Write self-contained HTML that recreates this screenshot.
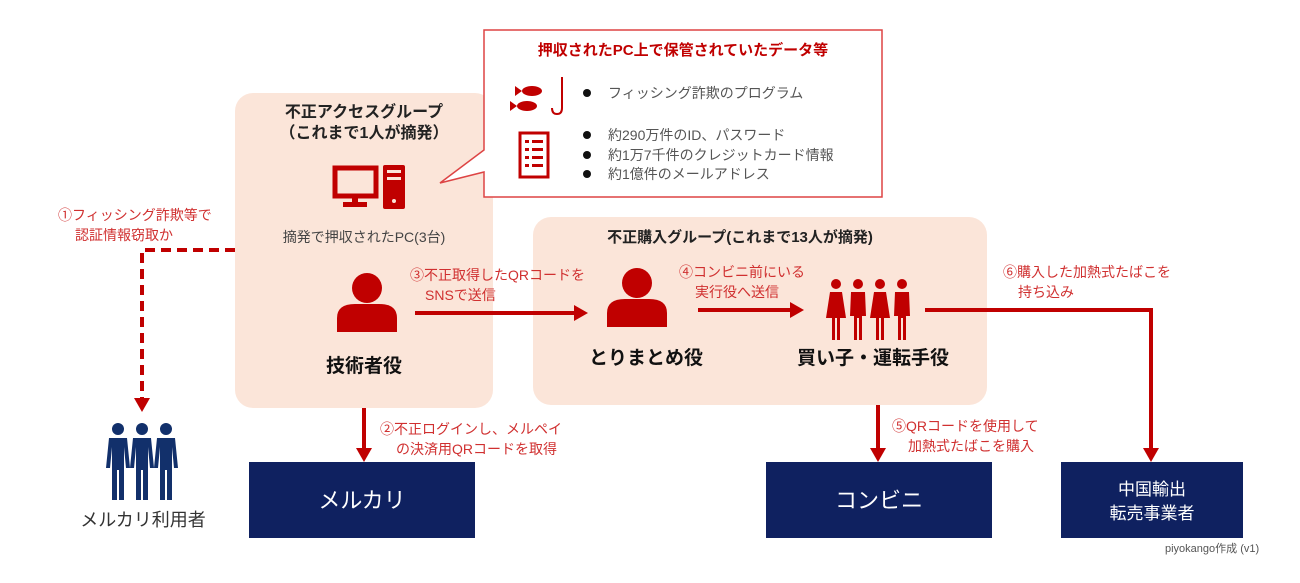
<!DOCTYPE html>
<html><head><meta charset="utf-8"><style>
html,body{margin:0;padding:0;background:#fff;}
svg{display:block;}
text{font-family:"Liberation Sans","Noto Sans CJK JP",sans-serif;}
</style></head><body>
<svg width="1300" height="583" viewBox="0 0 1300 583" xmlns="http://www.w3.org/2000/svg">
<defs>
<marker id="ar" markerWidth="10" markerHeight="10" refX="8" refY="5" orient="auto" markerUnits="userSpaceOnUse"><path d="M0,0 L10,5 L0,10 Z" fill="#c00000"/></marker>
<marker id="arb" markerWidth="16" markerHeight="16" refX="14" refY="8" orient="auto" markerUnits="userSpaceOnUse"><path d="M0,0 L16,8 L0,16 Z" fill="#c00000"/></marker>
<g id="person"><circle cx="0" cy="-22" r="15" fill="#c00000"/><path d="M-30,22 L-30,8 Q-30,-6 -12,-6 L12,-6 Q30,-6 30,8 L30,22 Z" fill="#c00000"/></g>
<g id="man"><circle cx="0" cy="-30" r="7" fill="C"/></g>
</defs>
<!-- boxes -->
<rect x="235" y="93" width="258" height="315" rx="18" fill="#fbe5d9"/>
<rect x="533" y="217" width="454" height="188" rx="18" fill="#fbe5d9"/>
<!-- callout -->
<path d="M484,30 L882,30 L882,197 L484,197 L484,172 L440,183 L484,150 Z" fill="#fff" stroke="#d44" stroke-width="1.5"/>
<text x="683" y="55" text-anchor="middle" font-size="15" font-weight="bold" fill="#c00000">押収されたPC上で保管されていたデータ等</text>
<g font-size="14" fill="#555">
<circle cx="587" cy="93" r="4" fill="#111"/><text x="608" y="98">フィッシング詐欺のプログラム</text>
<circle cx="587" cy="135" r="4" fill="#111"/><text x="608" y="140">約290万件のID、パスワード</text>
<circle cx="587" cy="155" r="4" fill="#111"/><text x="608" y="160">約1万7千件のクレジットカード情報</text>
<circle cx="587" cy="174" r="4" fill="#111"/><text x="608" y="179">約1億件のメールアドレス</text>
</g>
<!-- fish icon -->
<g fill="#c00000"><ellipse cx="532" cy="91" rx="10" ry="5"/><path d="M522,91 L515,86 L515,96Z"/><ellipse cx="527" cy="106" rx="10" ry="5"/><path d="M517,106 L510,101 L510,111Z"/></g>
<path d="M562,77 L562,108 Q562,114 557,114 Q552,114 552,108" fill="none" stroke="#c00000" stroke-width="2"/>
<!-- list icon -->
<rect x="520" y="133" width="28" height="44" fill="none" stroke="#c00000" stroke-width="3"/>
<g fill="#c00000"><rect x="525" y="140" width="4" height="3"/><rect x="532" y="140" width="11" height="3"/><rect x="525" y="148" width="4" height="3"/><rect x="532" y="148" width="11" height="3"/><rect x="525" y="156" width="4" height="3"/><rect x="532" y="156" width="11" height="3"/><rect x="525" y="164" width="4" height="3"/><rect x="532" y="164" width="11" height="3"/></g>
<!-- left group -->
<text x="364" y="117" text-anchor="middle" font-size="16" font-weight="bold" fill="#222">不正アクセスグループ</text>
<text x="364" y="138" text-anchor="middle" font-size="16" font-weight="bold" fill="#222">（これまで1人が摘発）</text>
<rect x="335" y="168" width="41" height="28" fill="none" stroke="#c00000" stroke-width="5"/>
<rect x="352" y="196" width="6" height="6" fill="#c00000"/><rect x="343" y="202" width="24" height="5" fill="#c00000"/>
<rect x="383" y="165" width="22" height="44" rx="2" fill="#c00000"/>
<rect x="387" y="170" width="14" height="3" fill="#fbe5d9"/><rect x="387" y="177" width="14" height="3" fill="#fbe5d9"/><circle cx="394" cy="201" r="2" fill="#fbe5d9"/>
<text x="364" y="242" text-anchor="middle" font-size="14" fill="#444">摘発で押収されたPC(3台)</text>
<use href="#person" x="367" y="310"/>
<text x="364" y="372" text-anchor="middle" font-size="19" font-weight="bold" fill="#111">技術者役</text>
<!-- right group -->
<text x="740" y="242" text-anchor="middle" font-size="15" font-weight="bold" fill="#222">不正購入グループ(これまで13人が摘発)</text>
<use href="#person" x="637" y="305"/>
<text x="646" y="364" text-anchor="middle" font-size="19" font-weight="bold" fill="#111">とりまとめ役</text>
<g fill="#c00000">
<g transform="translate(836,0)"><circle cx="0" cy="284" r="5"/><path d="M-6,292 L6,292 L10,318 L4,318 L4,340 L1,340 L1,318 L-1,318 L-1,340 L-4,340 L-4,318 L-10,318 Z"/></g>
<g transform="translate(858,0)"><circle cx="0" cy="284" r="5"/><path d="M-7,292 L7,292 L8,316 L4,316 L4,340 L1,340 L1,318 L-1,318 L-1,340 L-4,340 L-4,316 L-8,316 Z"/></g>
<g transform="translate(880,0)"><circle cx="0" cy="284" r="5"/><path d="M-6,292 L6,292 L10,318 L4,318 L4,340 L1,340 L1,318 L-1,318 L-1,340 L-4,340 L-4,318 L-10,318 Z"/></g>
<g transform="translate(902,0)"><circle cx="0" cy="284" r="5"/><path d="M-7,292 L7,292 L8,316 L4,316 L4,340 L1,340 L1,318 L-1,318 L-1,340 L-4,340 L-4,316 L-8,316 Z"/></g>
</g>
<text x="873" y="364" text-anchor="middle" font-size="19" font-weight="bold" fill="#111">買い子・運転手役</text>
<!-- connectors -->
<g stroke="#c00000" stroke-width="4" fill="none">
<path d="M235,250 L142,250 L142,398" stroke-dasharray="10,6"/>
<path d="M415,313 L574,313"/>
<path d="M698,310 L790,310"/>
<path d="M925,310 L1151,310 L1151,450"/>
<path d="M878,405 L878,450"/>
<path d="M364,408 L364,450"/>
</g>
<g fill="#c00000">
<path d="M134,398 L150,398 L142,412 Z"/>
<path d="M574,305 L588,313 L574,321 Z"/>
<path d="M790,302 L804,310 L790,318 Z"/>
<path d="M1143,448 L1159,448 L1151,462 Z"/>
<path d="M870,448 L886,448 L878,462 Z"/>
<path d="M356,448 L372,448 L364,462 Z"/>
</g>
<!-- labels -->
<g font-size="14" fill="#d03030">
<text x="58" y="220">①フィッシング詐欺等で</text>
<text x="75" y="240">認証情報窃取か</text>
<text x="410" y="280">③不正取得したQRコードを</text>
<text x="425" y="300">SNSで送信</text>
<text x="679" y="277">④コンビニ前にいる</text>
<text x="695" y="297">実行役へ送信</text>
<text x="1003" y="277">⑥購入した加熱式たばこを</text>
<text x="1018" y="297">持ち込み</text>
<text x="380" y="434">②不正ログインし、メルペイ</text>
<text x="396" y="454">の決済用QRコードを取得</text>
<text x="892" y="431">⑤QRコードを使用して</text>
<text x="908" y="451">加熱式たばこを購入</text>
</g>
<!-- navy boxes -->
<rect x="249" y="462" width="226" height="76" fill="#0f2160"/>
<text x="362" y="508" text-anchor="middle" font-size="22" fill="#fff">メルカリ</text>
<rect x="766" y="462" width="226" height="76" fill="#0f2160"/>
<text x="879" y="508" text-anchor="middle" font-size="22" fill="#fff">コンビニ</text>
<rect x="1061" y="462" width="182" height="76" fill="#0f2160"/>
<text x="1152" y="495" text-anchor="middle" font-size="17" fill="#fff">中国輸出</text>
<text x="1152" y="519" text-anchor="middle" font-size="17" fill="#fff">転売事業者</text>
<!-- users icon -->
<g fill="#12306b">
<g transform="translate(118,0)"><circle cx="0" cy="429" r="6"/><path d="M-9,438 L9,438 L12,468 L8,468 L6,447 L6,500 L1,500 L1,470 L-1,470 L-1,500 L-6,500 L-6,447 L-8,468 L-12,468 Z"/></g>
<g transform="translate(142,0)"><circle cx="0" cy="429" r="6"/><path d="M-9,438 L9,438 L12,468 L8,468 L6,447 L6,500 L1,500 L1,470 L-1,470 L-1,500 L-6,500 L-6,447 L-8,468 L-12,468 Z"/></g>
<g transform="translate(166,0)"><circle cx="0" cy="429" r="6"/><path d="M-9,438 L9,438 L12,468 L8,468 L6,447 L6,500 L1,500 L1,470 L-1,470 L-1,500 L-6,500 L-6,447 L-8,468 L-12,468 Z"/></g>
</g>
<text x="143" y="526" text-anchor="middle" font-size="18" fill="#333">メルカリ利用者</text>
<text x="1165" y="552" font-size="11" fill="#555">piyokango作成 (v1)</text>
</svg>
</body></html>
